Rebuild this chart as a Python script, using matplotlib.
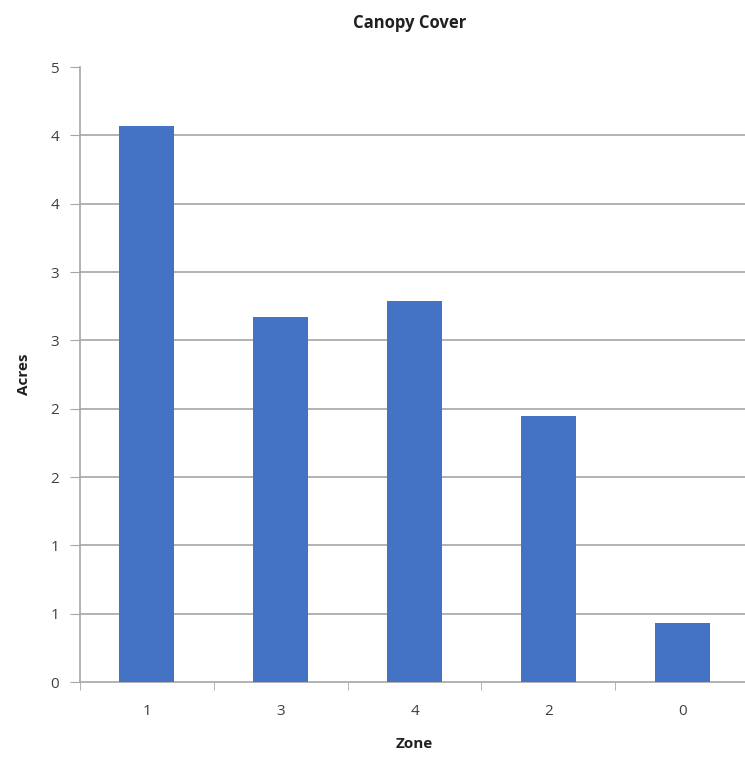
import matplotlib
matplotlib.use('Agg')
import matplotlib.pyplot as plt
import numpy as np

#-------------------------------------------------------------------------
# Raw data
#-------------------------------------------------------------------------

zones  = ['1', '3', '4', '2', '0']
acres  = [4.07, 2.67, 2.79, 1.95, 0.43]

yticks       = np.arange(0, 4.51, 0.5)
ytick_labels = ['0', '1', '1', '2', '2', '3', '3', '4', '4', '5']

#-------------------------------------------------------------------------
# Configure matplotlib
#-------------------------------------------------------------------------

plt.rcParams['font.family'] = ['Open Sans', 'DejaVu Sans']
plt.rcParams['font.size']   = 11

grid_color = '#A6A6A6'
bar_color  = '#4472C4'
text_color = '#404040'

#-------------------------------------------------------------------------
# Create plot
#-------------------------------------------------------------------------

fig = plt.figure(figsize=(7.45, 7.59), dpi=100)
ax  = fig.add_axes([0.1074, 0.1014, 0.898, 0.8103])

ind = np.arange(len(zones))
ax.bar(ind, acres, 0.41, color=bar_color, zorder=3)

ax.set_xlim(-0.5, len(zones) - 0.5)
ax.set_ylim(0, 4.5)

ax.set_yticks(yticks)
ax.set_yticklabels(ytick_labels, color=text_color, fontsize=11)
ax.set_xticks(ind)
ax.set_xticklabels(zones, color=text_color, fontsize=11)
ax.set_xticks(np.arange(-0.5, len(zones)), minor=True)

ax.tick_params(axis='x', which='major', length=0, pad=16)
ax.tick_params(axis='x', which='minor', length=6, color=grid_color, direction='out')
ax.tick_params(axis='y', length=7, color=grid_color, direction='out', pad=8)

# horizontal gridlines (no line on the top tick)
for y in yticks[1:-1]:
  ax.axhline(y, color=grid_color, linewidth=1.2, zorder=0)

for side in ['top', 'right']:
  ax.spines[side].set_visible(False)
for side in ['left', 'bottom']:
  ax.spines[side].set_color(grid_color)
  ax.spines[side].set_linewidth(1.2)

ax.set_xlabel('Zone', fontsize=11, fontweight='bold', color='#202020', labelpad=13)
ax.set_ylabel('Acres', fontsize=11, fontweight='bold', color='#202020', labelpad=14)
fig.text(0.55, 0.97, 'Canopy Cover', ha='center', va='center',
         fontsize=12, fontweight='bold', color='#202020')

plt.savefig('out.png', dpi=100)
